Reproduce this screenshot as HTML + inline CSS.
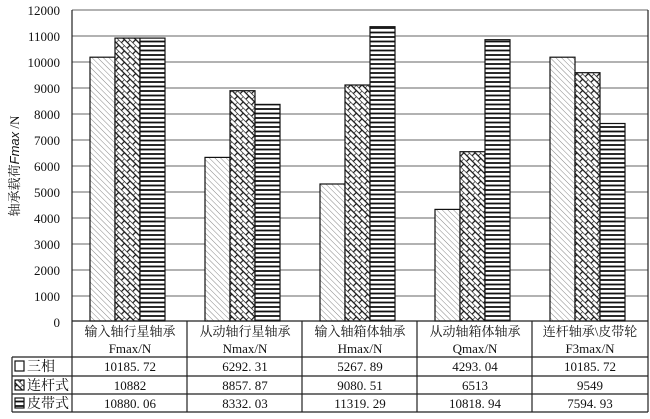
<!DOCTYPE html>
<html><head><meta charset="utf-8"><style>
body{margin:0;background:#fff;}
svg{display:block;font-family:"Liberation Serif","Noto Serif CJK SC",serif;}
</style></head><body>
<svg width="650" height="419" viewBox="0 0 650 419" xmlns="http://www.w3.org/2000/svg">
<defs>
<pattern id="pA" width="4" height="4" patternUnits="userSpaceOnUse" patternTransform="rotate(-45)">
<rect width="4" height="4" fill="#fff"/><line x1="0" y1="0" x2="0" y2="4" stroke="#888" stroke-width="1"/></pattern>
<pattern id="pB" width="8" height="8" patternUnits="userSpaceOnUse" patternTransform="rotate(45)">
<rect width="8" height="8" fill="#fff"/><path d="M0 0H8M0 4H8M0 0V4M4 4V8" stroke="#111" stroke-width="1.2" fill="none"/></pattern>
<pattern id="pC" width="4" height="4.5" patternUnits="userSpaceOnUse">
<rect width="4" height="4.5" fill="#fff"/><line x1="0" y1="1" x2="4" y2="1" stroke="#111" stroke-width="1.8"/></pattern>
</defs>
<g stroke="#666" stroke-width="1">
<line x1="72" y1="10" x2="648" y2="10"/><line x1="72" y1="36" x2="648" y2="36"/><line x1="72" y1="62" x2="648" y2="62"/>
<line x1="72" y1="88" x2="648" y2="88"/><line x1="72" y1="114" x2="648" y2="114"/><line x1="72" y1="140" x2="648" y2="140"/>
<line x1="72" y1="166" x2="648" y2="166"/><line x1="72" y1="192" x2="648" y2="192"/><line x1="72" y1="218" x2="648" y2="218"/>
<line x1="72" y1="244" x2="648" y2="244"/><line x1="72" y1="270" x2="648" y2="270"/><line x1="72" y1="296" x2="648" y2="296"/>
</g>
<g stroke="#222" stroke-width="1.2">
<line x1="72" y1="10" x2="72" y2="412"/><line x1="648" y1="10" x2="648" y2="412"/>
</g>
<g font-size="13" text-anchor="end" fill="#111">
<text x="60" y="15">12000</text><text x="60" y="41">11000</text><text x="60" y="67">10000</text>
<text x="60" y="93">9000</text><text x="60" y="119">8000</text><text x="60" y="145">7000</text>
<text x="60" y="171">6000</text><text x="60" y="197">5000</text><text x="60" y="223">4000</text>
<text x="60" y="249">3000</text><text x="60" y="275">2000</text><text x="60" y="301">1000</text>
<text x="60" y="327">0</text>
</g>
<text transform="translate(19,166) rotate(-90)" font-size="13" text-anchor="middle" fill="#111">轴承载荷<tspan font-style="italic" font-family="Liberation Sans">Fmax</tspan> /N</text>
<g stroke="#111" stroke-width="1.2">
<rect x="90" y="57.2" width="25" height="263.8" fill="url(#pA)"/>
<rect x="115" y="38.1" width="25" height="282.9" fill="url(#pB)"/>
<rect x="140" y="38.1" width="25" height="282.9" fill="url(#pC)"/>
<rect x="205" y="157.4" width="25" height="163.6" fill="url(#pA)"/>
<rect x="230" y="90.7" width="25" height="230.3" fill="url(#pB)"/>
<rect x="255" y="104.4" width="25" height="216.6" fill="url(#pC)"/>
<rect x="320" y="184" width="25" height="137" fill="url(#pA)"/>
<rect x="345" y="85" width="25" height="236" fill="url(#pB)"/>
<rect x="370" y="26.7" width="25" height="294.3" fill="url(#pC)"/>
<rect x="435" y="209.4" width="25" height="111.6" fill="url(#pA)"/>
<rect x="460" y="151.7" width="25" height="169.3" fill="url(#pB)"/>
<rect x="485" y="39.7" width="25" height="281.3" fill="url(#pC)"/>
<rect x="550" y="57.2" width="25" height="263.8" fill="url(#pA)"/>
<rect x="575" y="72.7" width="25" height="248.3" fill="url(#pB)"/>
<rect x="600" y="123.5" width="25" height="197.5" fill="url(#pC)"/>
</g>
<g stroke="#222" stroke-width="1.2" fill="none">
<line x1="72" y1="321" x2="648" y2="321"/>
<line x1="12" y1="357" x2="648" y2="357"/><line x1="12" y1="376" x2="648" y2="376"/>
<line x1="12" y1="394" x2="648" y2="394"/><line x1="12" y1="412" x2="648" y2="412"/>
<line x1="12" y1="357" x2="12" y2="412"/>
<line x1="187" y1="321" x2="187" y2="412"/><line x1="302" y1="321" x2="302" y2="412"/>
<line x1="417" y1="321" x2="417" y2="412"/><line x1="532" y1="321" x2="532" y2="412"/>
</g>
<g font-size="13" text-anchor="middle" fill="#111">
<text x="130" y="336">输入轴行星轴承</text><text x="130" y="353">Fmax/N</text>
<text x="245" y="336">从动轴行星轴承</text><text x="245" y="353">Nmax/N</text>
<text x="360" y="336">输入轴箱体轴承</text><text x="360" y="353">Hmax/N</text>
<text x="475" y="336">从动轴箱体轴承</text><text x="475" y="353">Qmax/N</text>
<text x="590" y="336">连杆轴承\皮带轮</text><text x="590" y="353">F3max/N</text>
<text x="130" y="371">10185. 72</text><text x="245" y="371">6292. 31</text><text x="360" y="371">5267. 89</text><text x="475" y="371">4293. 04</text><text x="590" y="371">10185. 72</text>
<text x="130" y="390">10882</text><text x="245" y="390">8857. 87</text><text x="360" y="390">9080. 51</text><text x="475" y="390">6513</text><text x="590" y="390">9549</text>
<text x="130" y="408">10880. 06</text><text x="245" y="408">8332. 03</text><text x="360" y="408">11319. 29</text><text x="475" y="408">10818. 94</text><text x="590" y="408">7594. 93</text>
</g>
<g font-size="14" fill="#111">
<rect x="15" y="361" width="9" height="10" fill="#fff" stroke="#111" stroke-width="1.2"/><text x="27" y="371">三相</text>
<rect x="15" y="380" width="9" height="10" fill="url(#pB)" stroke="#111" stroke-width="1.2"/><text x="27" y="390">连杆式</text>
<rect x="15" y="398" width="9" height="10" fill="url(#pC)" stroke="#111" stroke-width="1.2"/><text x="27" y="408">皮带式</text>
</g>
</svg>
</body></html>
